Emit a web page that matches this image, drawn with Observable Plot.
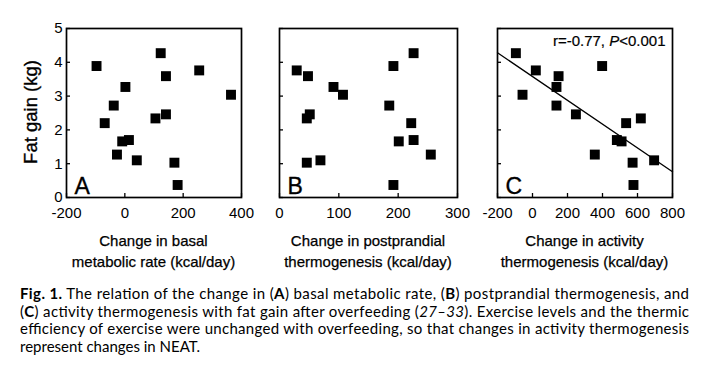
<!DOCTYPE html>
<html>
<head>
<meta charset="utf-8">
<script src="https://cdn.jsdelivr.net/npm/d3@7"></script>
<script src="https://cdn.jsdelivr.net/npm/@observablehq/plot@0.6"></script>
<style>
  html, body { margin: 0; padding: 0; background: #fff; }
  #wrap { position: relative; width: 707px; height: 369px; background: #fff; overflow: hidden; }
</style>
</head>
<body>
<div id="wrap"></div>
<script>
// ---- Data (16 subjects, same fat gain in every panel) ----
const fatGain        = [4.27, 3.89, 3.76, 3.59, 3.27, 3.04, 2.72, 2.46, 2.34, 2.20, 1.70, 1.66, 1.27, 1.10, 1.03, 0.37];
const bmrChange      = [123, -97, 255, 141, 2, 364, -38, 141, 105, -69, 14, -9, -27, 41, 170, 181];
const pptChange      = [226, 192, 29, 48, 91, 107, 185, 51, 46, 222, 226, 201, 255, 69, 46, 192];
const activityChange = [-95, 398, 19, 149, 137, -57, 137, 248, 619, 535, 482, 509, 356, 695, 572, 577];

const yTicks  = [0, 1, 2, 3, 4, 5];
const xTicksA = [-200, 0, 200, 400];
const xTicksB = [0, 100, 200, 300];
const xTicksC = [-200, 0, 200, 400, 600, 800];

const panelLetters = ["A", "B", "C"];
const xTitles = [
  ["Change in basal", "metabolic rate (kcal/day)"],
  ["Change in postprandial", "thermogenesis (kcal/day)"],
  ["Change in activity", "thermogenesis (kcal/day)"]
];
const yTitle = "Fat gain (kg)";
const statParts = ["r=-0.77, ", "P", "<0.001"];

const captionLines = [
  [["b", "Fig. 1."], ["n", " The relation of the change in ("], ["b", "A"], ["n", ") basal metabolic rate, ("], ["b", "B"], ["n", ") postprandial thermogenesis, and"]],
  [["n", "("], ["b", "C"], ["n", ") activity thermogenesis with fat gain after overfeeding ("], ["i", "27\u201333"], ["n", "). Exercise levels and the thermic"]],
  [["n", "efficiency of exercise were unchanged with overfeeding, so that changes in activity thermogenesis"]],
  [["n", "represent changes in NEAT."]]
];

// ---- Layout ----
const FONT = "'Liberation Sans', Arial, Helvetica, sans-serif";
const H = 230, MT = 28, MB = 33;
const frameH = H - MT - MB;
const panels = [
  {left: 0,   width: 250, ml: 66, mr: 9,  xs: bmrChange,      domain: [-200, 400], ticks: xTicksA, yLabels: true},
  {left: 250, width: 220, ml: 29, mr: 13, xs: pptChange,      domain: [0, 300],    ticks: xTicksB, yLabels: false},
  {left: 470, width: 237, ml: 27, mr: 35, xs: activityChange, domain: [-200, 800], ticks: xTicksC, yLabels: false, fit: true}
];

const wrap = document.getElementById("wrap");
const fmt = d => String(d);
const heavy = {stroke: "black", strokeWidth: 0.35};

panels.forEach((p, i) => {
  const data = fatGain.map((y, k) => ({x: p.xs[k], y}));
  const frameW = p.width - p.ml - p.mr;
  const marks = [
    Plot.ruleX(p.ticks, {x: d => d, insetTop: frameH - 4, stroke: "black", strokeWidth: 1.3}),
    Plot.ruleY(yTicks, {y: d => d, insetRight: frameW - 4, stroke: "black", strokeWidth: 1.3}),
    Plot.axisX({ticks: p.ticks, tickSize: 0, tickPadding: 10, fontSize: 15, label: null, tickFormat: fmt, ...heavy}),
    p.yLabels ? Plot.axisY({ticks: yTicks, tickSize: 0, tickPadding: 4, fontSize: 15, label: null, tickFormat: fmt, ...heavy}) : null,
    Plot.dot(data, {x: "x", y: "y", symbol: "square", r: 5.6, fill: "black", stroke: "none"}),
    Plot.text([panelLetters[i]], {text: d => d, frameAnchor: "bottom-left", textAnchor: "start", lineAnchor: "bottom", dx: 8, dy: -4, fontSize: 23, fill: "black", ...heavy}),
    Plot.frame({stroke: "black", strokeWidth: 1.7})
  ];
  if (p.fit) {
    const mx = d3.mean(data, d => d.x), my = d3.mean(data, d => d.y);
    const sxy = d3.sum(data, d => (d.x - mx) * (d.y - my));
    const sxx = d3.sum(data, d => (d.x - mx) ** 2);
    const slope = sxy / sxx, icpt = my - slope * mx;
    const fitPts = p.domain.map(x => ({x, y: icpt + slope * x}));
    marks.push(Plot.line(fitPts, {x: "x", y: "y", stroke: "black", strokeWidth: 1.3}));
    marks.push(Plot.text([statParts.join("")], {text: d => d, frameAnchor: "top-right", textAnchor: "end", lineAnchor: "top", dx: -7, dy: 7, fontSize: 15, fill: "black", stroke: "black", strokeWidth: 0.2}));
  }
  const svg = Plot.plot({
    width: p.width, height: H,
    marginLeft: p.ml, marginRight: p.mr, marginTop: MT, marginBottom: MB,
    x: {domain: p.domain, axis: null},
    y: {domain: [0, 5], axis: null},
    style: {fontFamily: FONT, fontSize: "15px", color: "black", background: "transparent", overflow: "visible"},
    marks: marks.filter(Boolean)
  });
  if (p.fit) {
    for (const t of svg.querySelectorAll("text")) {
      if (t.textContent === statParts.join("")) {
        t.textContent = "";
        statParts.forEach((s, k) => {
          const ts = document.createElementNS("http://www.w3.org/2000/svg", "tspan");
          ts.textContent = s;
          if (k === 1) ts.setAttribute("font-style", "italic");
          t.appendChild(ts);
        });
      }
    }
  }
  svg.style.position = "absolute";
  svg.style.left = p.left + "px";
  svg.style.top = "0px";
  wrap.appendChild(svg);
});

// ---- Overlay text: axis titles, y title, caption ----
const ov = d3.create("svg").attr("width", 707).attr("height", 369)
  .style("position", "absolute").style("left", "0px").style("top", "0px");

ov.append("text").attr("transform", "translate(37,112) rotate(-90)")
  .attr("text-anchor", "middle").attr("font-family", FONT).attr("font-size", 18.5)
  .attr("fill", "black").attr("stroke", "black").attr("stroke-width", 0.35).text(yTitle);

panels.forEach((p, i) => {
  const cx = p.left + p.ml + (p.width - p.ml - p.mr) / 2;
  xTitles[i].forEach((line, k) => {
    ov.append("text").attr("x", cx).attr("y", 246 + k * 21)
      .attr("text-anchor", "middle").attr("font-family", FONT).attr("font-size", 15)
      .attr("fill", "black").attr("stroke", "black").attr("stroke-width", 0.25).text(line);
  });
});

const capFont = "Lato, 'Open Sans', 'Noto Sans', sans-serif";
const capLens = [669, 669, 669, null];
captionLines.forEach((parts, k) => {
  const t = ov.append("text").attr("x", 20).attr("y", 299 + k * 17.7)
    .attr("font-family", capFont).attr("font-size", 15).attr("fill", "black");
  if (capLens[k]) t.attr("textLength", capLens[k]).attr("lengthAdjust", "spacing");
  parts.forEach(([style, s]) => {
    const ts = t.append("tspan").text(s);
    if (style === "b") ts.attr("font-weight", "bold");
    if (style === "i") ts.attr("font-style", "italic");
  });
});

wrap.appendChild(ov.node());
</script>
</body>
</html>
